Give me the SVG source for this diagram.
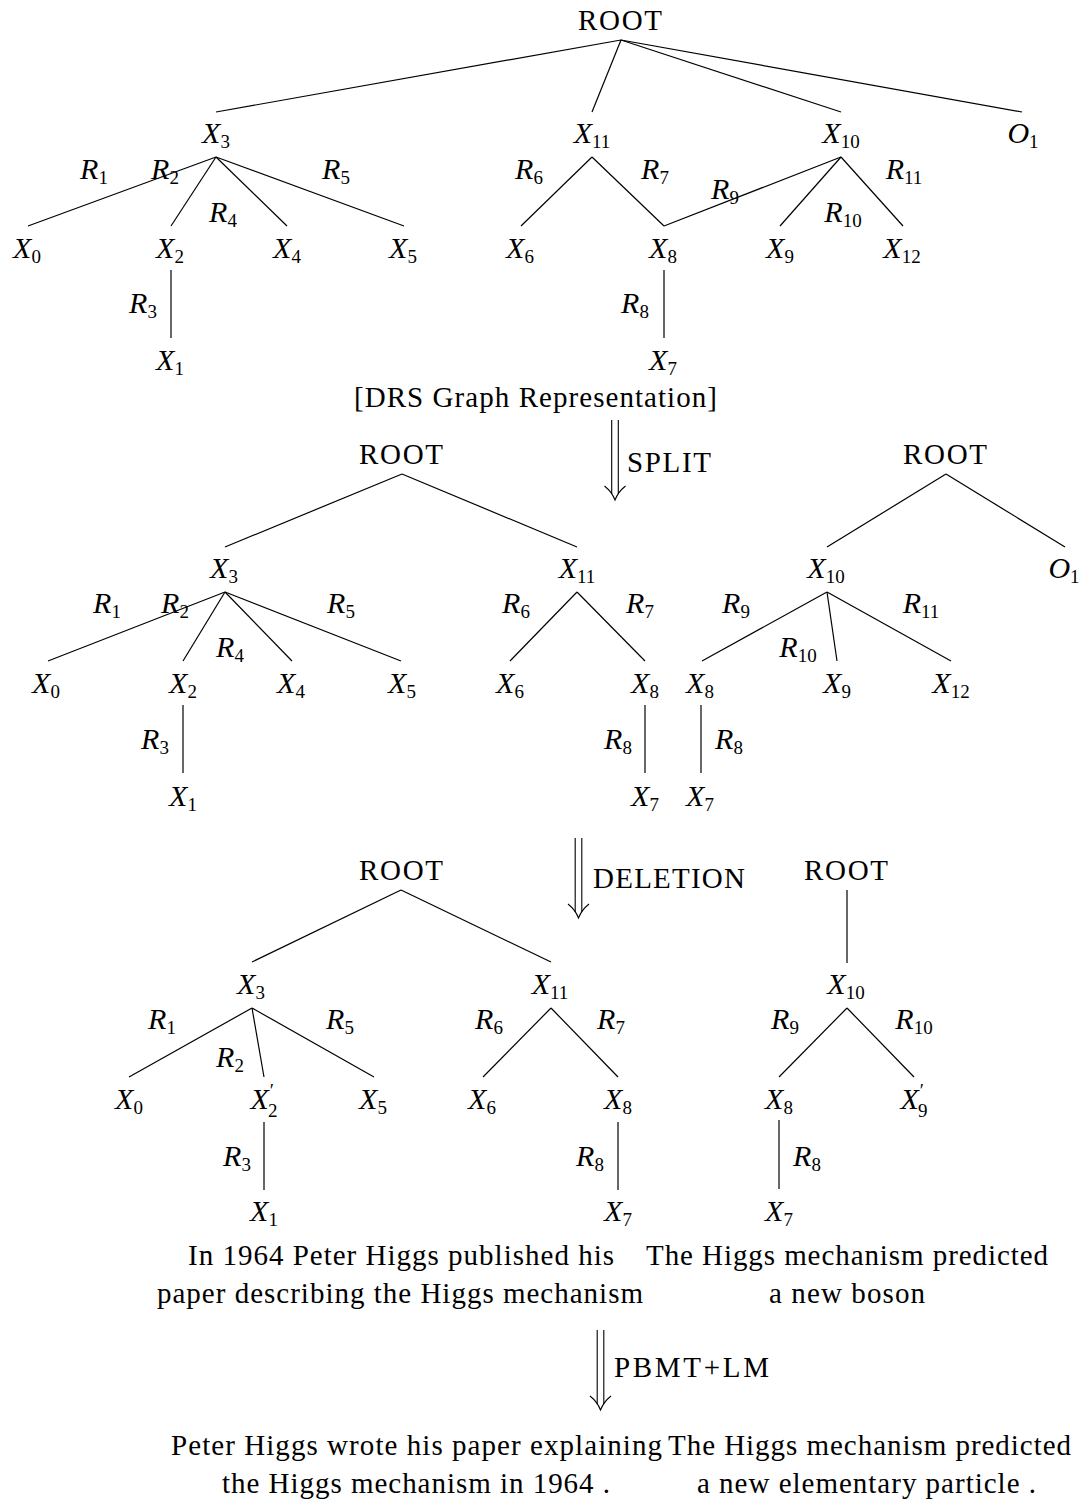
<svg xmlns="http://www.w3.org/2000/svg" width="1082" height="1499" viewBox="0 0 1082 1499">
<style>
.bg{fill:#fff}
.c line{stroke:#000;stroke-width:1.2;fill:none}
.ar{stroke:#000;stroke-width:1.1;fill:none}
.t{font-family:"Liberation Serif","Times New Roman",serif;font-size:29px;fill:#000}
.m{font-family:"Liberation Serif","Times New Roman",serif;font-size:30px;font-style:italic;text-anchor:middle;fill:#000}
.s{font-style:normal;font-size:19px}
.ctr{text-anchor:middle}
</style>
<defs>
<g id="darrow">
<line x1="-3.3" y1="-80" x2="-3.3" y2="-6" class="ar"/>
<line x1="3.3" y1="-80" x2="3.3" y2="-6" class="ar"/>
<path d="M-10.5,-14 Q-3,-8 0,0 Q3,-8 10.5,-14" class="ar"/>
</g>
</defs>
<rect class="bg" x="0" y="0" width="1082" height="1499"/>

<g id="connectors" class="c">
<!-- top tree -->
<line x1="621" y1="40" x2="216" y2="112"/>
<line x1="621" y1="40" x2="592" y2="112"/>
<line x1="621" y1="40" x2="841" y2="112"/>
<line x1="621" y1="40" x2="1022" y2="112"/>
<line x1="216" y1="157" x2="28" y2="226"/>
<line x1="216" y1="157" x2="171" y2="226"/>
<line x1="216" y1="157" x2="287" y2="226"/>
<line x1="216" y1="157" x2="404" y2="226"/>
<line x1="171" y1="270" x2="171" y2="338"/>
<line x1="592" y1="157" x2="521" y2="226"/>
<line x1="592" y1="157" x2="664" y2="226"/>
<line x1="841" y1="157" x2="664" y2="226"/>
<line x1="841" y1="157" x2="780" y2="226"/>
<line x1="841" y1="157" x2="903" y2="226"/>
<line x1="664" y1="270" x2="664" y2="338"/>
<!-- split trees -->
<line x1="402" y1="474" x2="225" y2="547"/>
<line x1="402" y1="474" x2="577" y2="547"/>
<line x1="225" y1="592" x2="48" y2="661"/>
<line x1="225" y1="592" x2="183" y2="661"/>
<line x1="225" y1="592" x2="292" y2="661"/>
<line x1="225" y1="592" x2="401" y2="661"/>
<line x1="183" y1="705" x2="183" y2="773"/>
<line x1="577" y1="592" x2="510" y2="661"/>
<line x1="577" y1="592" x2="645" y2="661"/>
<line x1="645" y1="705" x2="645" y2="773"/>
<line x1="946" y1="474" x2="827" y2="547"/>
<line x1="946" y1="474" x2="1065" y2="547"/>
<line x1="827" y1="592" x2="702" y2="661"/>
<line x1="827" y1="592" x2="837" y2="661"/>
<line x1="827" y1="592" x2="951" y2="661"/>
<line x1="701" y1="705" x2="701" y2="773"/>
<!-- deletion trees -->
<line x1="401" y1="890" x2="252" y2="962"/>
<line x1="401" y1="890" x2="551" y2="962"/>
<line x1="252" y1="1008" x2="129" y2="1077"/>
<line x1="252" y1="1008" x2="264" y2="1077"/>
<line x1="252" y1="1008" x2="374" y2="1077"/>
<line x1="264" y1="1122" x2="264" y2="1190"/>
<line x1="551" y1="1008" x2="483" y2="1077"/>
<line x1="551" y1="1008" x2="618" y2="1077"/>
<line x1="618" y1="1122" x2="618" y2="1190"/>
<line x1="847" y1="890" x2="847" y2="963"/>
<line x1="847" y1="1008" x2="779" y2="1077"/>
<line x1="847" y1="1008" x2="914" y2="1077"/>
<line x1="779" y1="1120" x2="779" y2="1189"/>
</g>

<g id="arrows">
<g id="arrow-split">
<use href="#darrow" x="615" y="500"/>
<text class="t" x="627" y="472" textLength="84">SPLIT</text>
</g>
<g id="arrow-deletion">
<use href="#darrow" x="578.5" y="918"/>
<text class="t" x="593" y="888" textLength="152">DELETION</text>
</g>
<g id="arrow-pbmt">
<use href="#darrow" x="600.5" y="1410"/>
<text class="t" x="614" y="1377" textLength="155">PBMT+LM</text>
</g>
</g>

<!-- top tree nodes -->
<g id="n-root1"><text class="t ctr" x="620" y="30" textLength="84">ROOT</text></g>
<g id="n-x3a"><text class="m" x="216" y="143">X<tspan class="s" dy="5">3</tspan></text></g>
<g id="n-x11a"><text class="m" x="592" y="143">X<tspan class="s" dy="5">11</tspan></text></g>
<g id="n-x10a"><text class="m" x="841" y="143">X<tspan class="s" dy="5">10</tspan></text></g>
<g id="n-o1a"><text class="m" x="1023" y="143">O<tspan class="s" dy="5">1</tspan></text></g>
<g id="n-x0a"><text class="m" x="27" y="258">X<tspan class="s" dy="5">0</tspan></text></g>
<g id="n-x2a"><text class="m" x="170" y="258">X<tspan class="s" dy="5">2</tspan></text></g>
<g id="n-x4a"><text class="m" x="287" y="258">X<tspan class="s" dy="5">4</tspan></text></g>
<g id="n-x5a"><text class="m" x="403" y="258">X<tspan class="s" dy="5">5</tspan></text></g>
<g id="n-x6a"><text class="m" x="520" y="258">X<tspan class="s" dy="5">6</tspan></text></g>
<g id="n-x8a"><text class="m" x="663" y="258">X<tspan class="s" dy="5">8</tspan></text></g>
<g id="n-x9a"><text class="m" x="780" y="258">X<tspan class="s" dy="5">9</tspan></text></g>
<g id="n-x12a"><text class="m" x="902" y="258">X<tspan class="s" dy="5">12</tspan></text></g>
<g id="n-x1a"><text class="m" x="170" y="370">X<tspan class="s" dy="5">1</tspan></text></g>
<g id="n-x7a"><text class="m" x="663" y="370">X<tspan class="s" dy="5">7</tspan></text></g>
<g id="e-labels-a">
<text class="m" x="94" y="179">R<tspan class="s" dy="5">1</tspan></text>
<text class="m" x="165" y="179">R<tspan class="s" dy="5">2</tspan></text>
<text class="m" x="336" y="179">R<tspan class="s" dy="5">5</tspan></text>
<text class="m" x="223" y="222">R<tspan class="s" dy="5">4</tspan></text>
<text class="m" x="143" y="313">R<tspan class="s" dy="5">3</tspan></text>
<text class="m" x="529" y="179">R<tspan class="s" dy="5">6</tspan></text>
<text class="m" x="655" y="179">R<tspan class="s" dy="5">7</tspan></text>
<text class="m" x="725" y="199">R<tspan class="s" dy="5">9</tspan></text>
<text class="m" x="843" y="222">R<tspan class="s" dy="5">10</tspan></text>
<text class="m" x="904" y="179">R<tspan class="s" dy="5">11</tspan></text>
<text class="m" x="635" y="313">R<tspan class="s" dy="5">8</tspan></text>
</g>
<g id="n-caption"><text class="t" x="354" y="407" textLength="363">[DRS Graph Representation]</text></g>

<!-- split trees nodes -->
<g id="n-root2"><text class="t ctr" x="401" y="464" textLength="84">ROOT</text></g>
<g id="n-root3"><text class="t ctr" x="945" y="464" textLength="84">ROOT</text></g>
<g id="n-x3b"><text class="m" x="224" y="578">X<tspan class="s" dy="5">3</tspan></text></g>
<g id="n-x11b"><text class="m" x="577" y="578">X<tspan class="s" dy="5">11</tspan></text></g>
<g id="n-x10b"><text class="m" x="826" y="578">X<tspan class="s" dy="5">10</tspan></text></g>
<g id="n-o1b"><text class="m" x="1064" y="578">O<tspan class="s" dy="5">1</tspan></text></g>
<g id="n-x0b"><text class="m" x="46" y="693">X<tspan class="s" dy="5">0</tspan></text></g>
<g id="n-x2b"><text class="m" x="183" y="693">X<tspan class="s" dy="5">2</tspan></text></g>
<g id="n-x4b"><text class="m" x="291" y="693">X<tspan class="s" dy="5">4</tspan></text></g>
<g id="n-x5b"><text class="m" x="402" y="693">X<tspan class="s" dy="5">5</tspan></text></g>
<g id="n-x6b"><text class="m" x="510" y="693">X<tspan class="s" dy="5">6</tspan></text></g>
<g id="n-x8b"><text class="m" x="645" y="693">X<tspan class="s" dy="5">8</tspan></text></g>
<g id="n-x8c"><text class="m" x="700" y="693">X<tspan class="s" dy="5">8</tspan></text></g>
<g id="n-x9b"><text class="m" x="837" y="693">X<tspan class="s" dy="5">9</tspan></text></g>
<g id="n-x12b"><text class="m" x="951" y="693">X<tspan class="s" dy="5">12</tspan></text></g>
<g id="n-x1b"><text class="m" x="183" y="806">X<tspan class="s" dy="5">1</tspan></text></g>
<g id="n-x7b"><text class="m" x="645" y="806">X<tspan class="s" dy="5">7</tspan></text></g>
<g id="n-x7c"><text class="m" x="700" y="806">X<tspan class="s" dy="5">7</tspan></text></g>
<g id="e-labels-b">
<text class="m" x="107" y="613">R<tspan class="s" dy="5">1</tspan></text>
<text class="m" x="175" y="613">R<tspan class="s" dy="5">2</tspan></text>
<text class="m" x="341" y="613">R<tspan class="s" dy="5">5</tspan></text>
<text class="m" x="230" y="657">R<tspan class="s" dy="5">4</tspan></text>
<text class="m" x="155" y="749">R<tspan class="s" dy="5">3</tspan></text>
<text class="m" x="516" y="613">R<tspan class="s" dy="5">6</tspan></text>
<text class="m" x="640" y="613">R<tspan class="s" dy="5">7</tspan></text>
<text class="m" x="618" y="749">R<tspan class="s" dy="5">8</tspan></text>
<text class="m" x="729" y="749">R<tspan class="s" dy="5">8</tspan></text>
<text class="m" x="736" y="613">R<tspan class="s" dy="5">9</tspan></text>
<text class="m" x="798" y="657">R<tspan class="s" dy="5">10</tspan></text>
<text class="m" x="921" y="613">R<tspan class="s" dy="5">11</tspan></text>
</g>

<!-- deletion trees nodes -->
<g id="n-root4"><text class="t ctr" x="401" y="880" textLength="84">ROOT</text></g>
<g id="n-root5"><text class="t ctr" x="846" y="880" textLength="84">ROOT</text></g>
<g id="n-x3c"><text class="m" x="251" y="994">X<tspan class="s" dy="5">3</tspan></text></g>
<g id="n-x11c"><text class="m" x="550" y="994">X<tspan class="s" dy="5">11</tspan></text></g>
<g id="n-x10c"><text class="m" x="846" y="994">X<tspan class="s" dy="5">10</tspan></text></g>
<g id="n-x0c"><text class="m" x="129" y="1109">X<tspan class="s" dy="5">0</tspan></text></g>
<g id="n-x2p"><text class="m" x="264" y="1109">X<tspan class="s" dx="1" dy="-12">′</tspan><tspan class="s" dx="-6" dy="20">2</tspan></text></g>
<g id="n-x5c"><text class="m" x="373" y="1109">X<tspan class="s" dy="5">5</tspan></text></g>
<g id="n-x6c"><text class="m" x="482" y="1109">X<tspan class="s" dy="5">6</tspan></text></g>
<g id="n-x8d"><text class="m" x="618" y="1109">X<tspan class="s" dy="5">8</tspan></text></g>
<g id="n-x8e"><text class="m" x="779" y="1109">X<tspan class="s" dy="5">8</tspan></text></g>
<g id="n-x9p"><text class="m" x="914" y="1109">X<tspan class="s" dx="1" dy="-12">′</tspan><tspan class="s" dx="-6" dy="20">9</tspan></text></g>
<g id="n-x1c"><text class="m" x="264" y="1221">X<tspan class="s" dy="5">1</tspan></text></g>
<g id="n-x7d"><text class="m" x="618" y="1221">X<tspan class="s" dy="5">7</tspan></text></g>
<g id="n-x7e"><text class="m" x="779" y="1221">X<tspan class="s" dy="5">7</tspan></text></g>
<g id="e-labels-c">
<text class="m" x="162" y="1029">R<tspan class="s" dy="5">1</tspan></text>
<text class="m" x="230" y="1067">R<tspan class="s" dy="5">2</tspan></text>
<text class="m" x="340" y="1029">R<tspan class="s" dy="5">5</tspan></text>
<text class="m" x="237" y="1166">R<tspan class="s" dy="5">3</tspan></text>
<text class="m" x="489" y="1029">R<tspan class="s" dy="5">6</tspan></text>
<text class="m" x="611" y="1029">R<tspan class="s" dy="5">7</tspan></text>
<text class="m" x="590" y="1166">R<tspan class="s" dy="5">8</tspan></text>
<text class="m" x="785" y="1029">R<tspan class="s" dy="5">9</tspan></text>
<text class="m" x="914" y="1029">R<tspan class="s" dy="5">10</tspan></text>
<text class="m" x="807" y="1166">R<tspan class="s" dy="5">8</tspan></text>
</g>

<!-- sentences -->
<g id="n-sent1">
<text class="t" x="188" y="1265" textLength="426">In 1964 Peter Higgs published his</text>
<text class="t" x="157" y="1303" textLength="486">paper describing the Higgs mechanism</text>
</g>
<g id="n-sent2">
<text class="t" x="646" y="1265" textLength="402">The Higgs mechanism predicted</text>
<text class="t" x="769" y="1303" textLength="156">a new boson</text>
</g>
<g id="n-out1">
<text class="t" x="171" y="1455" textLength="491">Peter Higgs wrote his paper explaining</text>
<text class="t" x="222" y="1493" textLength="388">the Higgs mechanism in 1964 .</text>
</g>
<g id="n-out2">
<text class="t" x="668" y="1455" textLength="403">The Higgs mechanism predicted</text>
<text class="t" x="697" y="1493" textLength="339">a new elementary particle .</text>
</g>
</svg>
